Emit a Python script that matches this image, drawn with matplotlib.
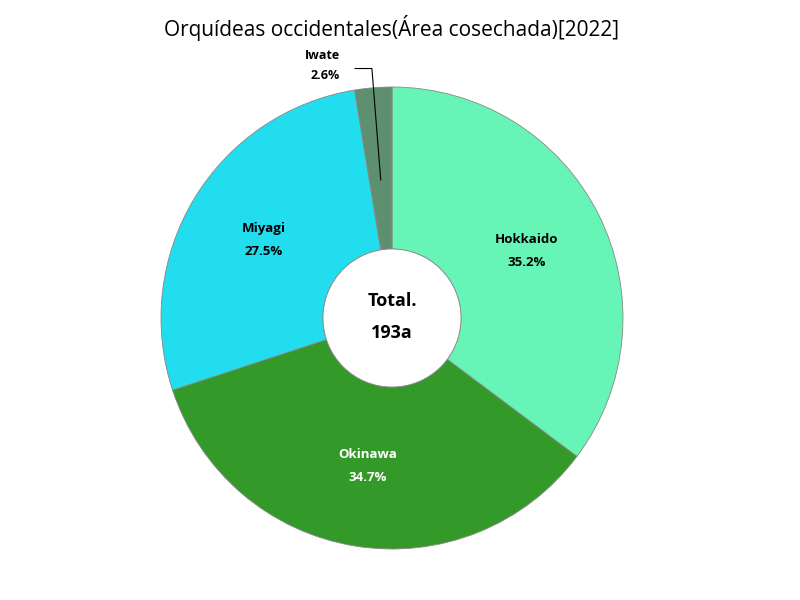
import matplotlib.pyplot as plt
import numpy as np

plt.rcParams['font.family'] = ['Open Sans', 'DejaVu Sans']

# data: harvested area (a) by prefecture, 2022
regions = ['Hokkaido', 'Okinawa', 'Miyagi', 'Iwate']
areas = [68, 67, 53, 5]
colors = ['#66F5B6', '#339A2A', '#22DDEE', '#5E9070']
text_colors = ['black', 'white', 'black', 'black']
total = sum(areas)

fig = plt.figure(figsize=(8, 6), dpi=100)
# axes placed so the pie centre sits at (392, 318) px with radius 231 px
ax = fig.add_axes([161 / 800, 51 / 600, 462 / 800, 462 / 600])

wedges, _ = ax.pie(areas, colors=colors, startangle=90, counterclock=False,
                   radius=1, wedgeprops=dict(width=1 - 69 / 231, edgecolor='#888888', linewidth=0.6))
ax.set_xlim(-1, 1)
ax.set_ylim(-1, 1)
ax.set_aspect('equal')
ax.axis('off')

hole = plt.Circle((0, 0), 69 / 231, facecolor='white', edgecolor='#888888', linewidth=0.6)
ax.add_patch(hole)

for w, name, val, tc in zip(wedges, regions, areas, text_colors):
    pct = '%.1f%%' % (val / total * 100)
    ang = np.deg2rad((w.theta1 + w.theta2) / 2)
    if val / total < 0.05:
        # small slice: label outside with a leader line
        px, py = 0.6 * np.cos(ang), 0.6 * np.sin(ang)
        ax.plot([px, -0.087, -0.16], [py, 1.08, 1.08], color='black', lw=0.8, clip_on=False)
        ax.text(-0.3, 1.135, name, ha='center', va='center', fontsize=9,
                fontweight='bold', color=tc, clip_on=False)
        ax.text(-0.29, 1.05, pct, ha='center', va='center', fontsize=9,
                fontweight='bold', color=tc, clip_on=False)
        continue
    r = 0.65
    x, y = r * np.cos(ang), r * np.sin(ang)
    ax.text(x, y + 0.05, name, ha='center', va='center', fontsize=9.5,
            fontweight='bold', color=tc)
    ax.text(x, y - 0.05, pct, ha='center', va='center', fontsize=9.5,
            fontweight='bold', color=tc)

ax.text(0, 0.075, 'Total.', ha='center', va='center', fontsize=13, fontweight='bold')
ax.text(0, -0.065, '%da' % total, ha='center', va='center', fontsize=13, fontweight='bold')

fig.text(392 / 800, 1 - 28 / 600, 'Orquídeas occidentales(Área cosechada)[2022]',
         ha='center', va='center', fontsize=15)

fig.savefig('out.png')
